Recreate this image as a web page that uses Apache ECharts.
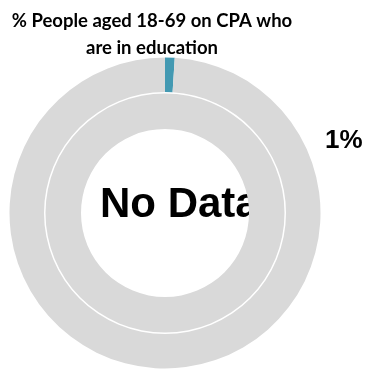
<!DOCTYPE html>
<html>
<head>
<meta charset="utf-8">
<script src="https://cdn.jsdelivr.net/npm/echarts@6/dist/echarts.min.js"></script>
<style>
  html, body { margin: 0; padding: 0; background: #fff; }
  #main { width: 370px; height: 374px; }
</style>
</head>
<body>
<div id="main"></div>
<script>
// chart data
const titleText = '% People aged 18-69 on CPA who\nare in education';
const categories = ['In education', 'Other'];
const shareValues = [1, 99];
const centreText = 'No Data';

const colors = {
  blue: '#4399b2',
  grey: '#d9d9d9',
};

const chart = echarts.init(document.getElementById('main'));

const option = {
  animation: false,
  title: {
    text: titleText,
    left: 147,
    top: 3,
    textAlign: 'center',
    textStyle: {
      fontFamily: 'Lato',
      fontWeight: 'bold',
      fontSize: 18.5,
      lineHeight: 27,
      color: '#000',
    },
  },
  graphic: [
    {
      // sits under the ring so the ring clips it
      type: 'text',
      z: -10,
      left: 100,
      top: 184,
      style: {
        text: centreText,
        font: 'bold 42px "Liberation Sans"',
        fill: '#000',
      },
    },
    {
      type: 'text',
      left: 325,
      top: 128,
      style: {
        text: shareValues[0] + '%',
        font: 'bold 26px "Liberation Sans"',
        fill: '#000',
      },
    },
  ],
  series: [
    {
      type: 'pie',
      z: 5,
      center: [165, 213],
      radius: [84, 119.5],
      silent: true,
      label: { show: false },
      labelLine: { show: false },
      data: [{ name: 'inner', value: 100, itemStyle: { color: colors.grey } }],
    },
    {
      type: 'pie',
      z: 5,
      center: [165, 213],
      radius: [121, 155.5],
      startAngle: 90,
      clockwise: true,
      silent: true,
      label: { show: false },
      labelLine: { show: false },
      data: categories.map((name, i) => ({
        name,
        value: shareValues[i],
        itemStyle: { color: i === 0 ? colors.blue : colors.grey },
      })),
    },
  ],
};

chart.setOption(option);
</script>
</body>
</html>
